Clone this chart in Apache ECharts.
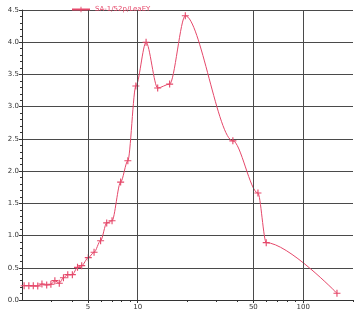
<!DOCTYPE html>
<html><head><meta charset="utf-8">
<script src="https://cdn.jsdelivr.net/npm/echarts@6/dist/echarts.min.js"></script>
<style>html,body{margin:0;padding:0;background:#fff}#c{width:358px;height:313px}</style>
</head><body><div id="c"></div>
<script>
const seriesName = 'SA-1/52p/LeaEY';
const poreDiameter = [2.06,2.20,2.34,2.49,2.64,2.82,2.99,3.16,3.36,3.56,3.78,4.03,4.33,4.59,5.03,5.45,5.97,6.50,7.0,7.89,8.72,9.75,11.24,13.21,15.6,19.4,37.6,53.3,59.8,160];
const poreVolume = [0.222,0.222,0.22,0.217,0.248,0.233,0.244,0.30,0.26,0.346,0.393,0.393,0.507,0.533,0.657,0.74,0.92,1.196,1.23,1.83,2.16,3.32,4.00,3.29,3.35,4.41,2.47,1.66,0.89,0.104];
const xMajorTicks = [5,10,50,100];
const xMinorTicks = [3,4,6,7,8,9,20,30,40,60,70,80,90,200];
const yTicks = [0,0.5,1,1.5,2,2.5,3,3.5,4,4.5];

const color = '#e5486a';
const plus = 'path://M0,4.2H10V5.8H0Z M4.2,0H5.8V10H4.2Z';
const gridColor = '#4a4a4a';
const chart = echarts.init(document.getElementById('c'));
chart.setOption({
  animation:false,
  textStyle:{fontFamily:'DejaVu Sans'},
  grid:{left:22,right:5,top:10,bottom:13,containLabel:false,outerBoundsMode:'none'},
  legend:{left:66,top:1,itemWidth:18,itemHeight:7,itemGap:3,
    textStyle:{color:color,fontSize:7},data:[seriesName]},
  xAxis:[{
    type:'log',logBase:10,min:2,max:200,
    axisLine:{show:true,onZero:false,lineStyle:{color:'#333',width:1}},
    axisTick:{show:true,length:3,customValues:xMajorTicks,lineStyle:{color:'#333'}},
    axisLabel:{customValues:xMajorTicks,fontSize:7,color:'#333',margin:4},
    splitLine:{show:false}
  },{
    type:'log',logBase:10,min:2,max:200,position:'bottom',
    axisLine:{show:false,onZero:false},
    axisTick:{show:true,length:2,customValues:xMinorTicks,lineStyle:{color:'#333'}},
    axisLabel:{show:false},
    splitLine:{show:false}
  }],
  yAxis:{
    type:'value',min:0,max:4.5,interval:0.5,
    axisLine:{show:true,onZero:false,lineStyle:{color:'#333',width:1}},
    axisTick:{show:true,length:3,lineStyle:{color:'#333'}},
    minorTick:{show:true,splitNumber:5,length:2,lineStyle:{color:'#333'}},
    axisLabel:{fontSize:7,color:'#333',margin:3,formatter:v=>v.toFixed(1),customValues:yTicks},
    splitLine:{show:true,lineStyle:{color:gridColor,width:1}},
    name:'Pore Volume (cm³/g)',nameLocation:'middle',nameGap:14,
    nameTextStyle:{fontSize:7,color:'#555'}
  },
  series:[{
    name:seriesName,type:'line',xAxisIndex:0,
    data:poreDiameter.map((x,i)=>[x,poreVolume[i]]),
    smooth:0.3,smoothMonotone:'x',
    symbol:plus,symbolSize:7,
    lineStyle:{color:color,width:1},
    itemStyle:{color:color},
    markLine:{silent:true,symbol:'none',label:{show:false},animation:false,
      lineStyle:{color:gridColor,width:1,type:'solid'},
      data:xMajorTicks.map(v=>({xAxis:v}))}
  }]
});
</script></body></html>
